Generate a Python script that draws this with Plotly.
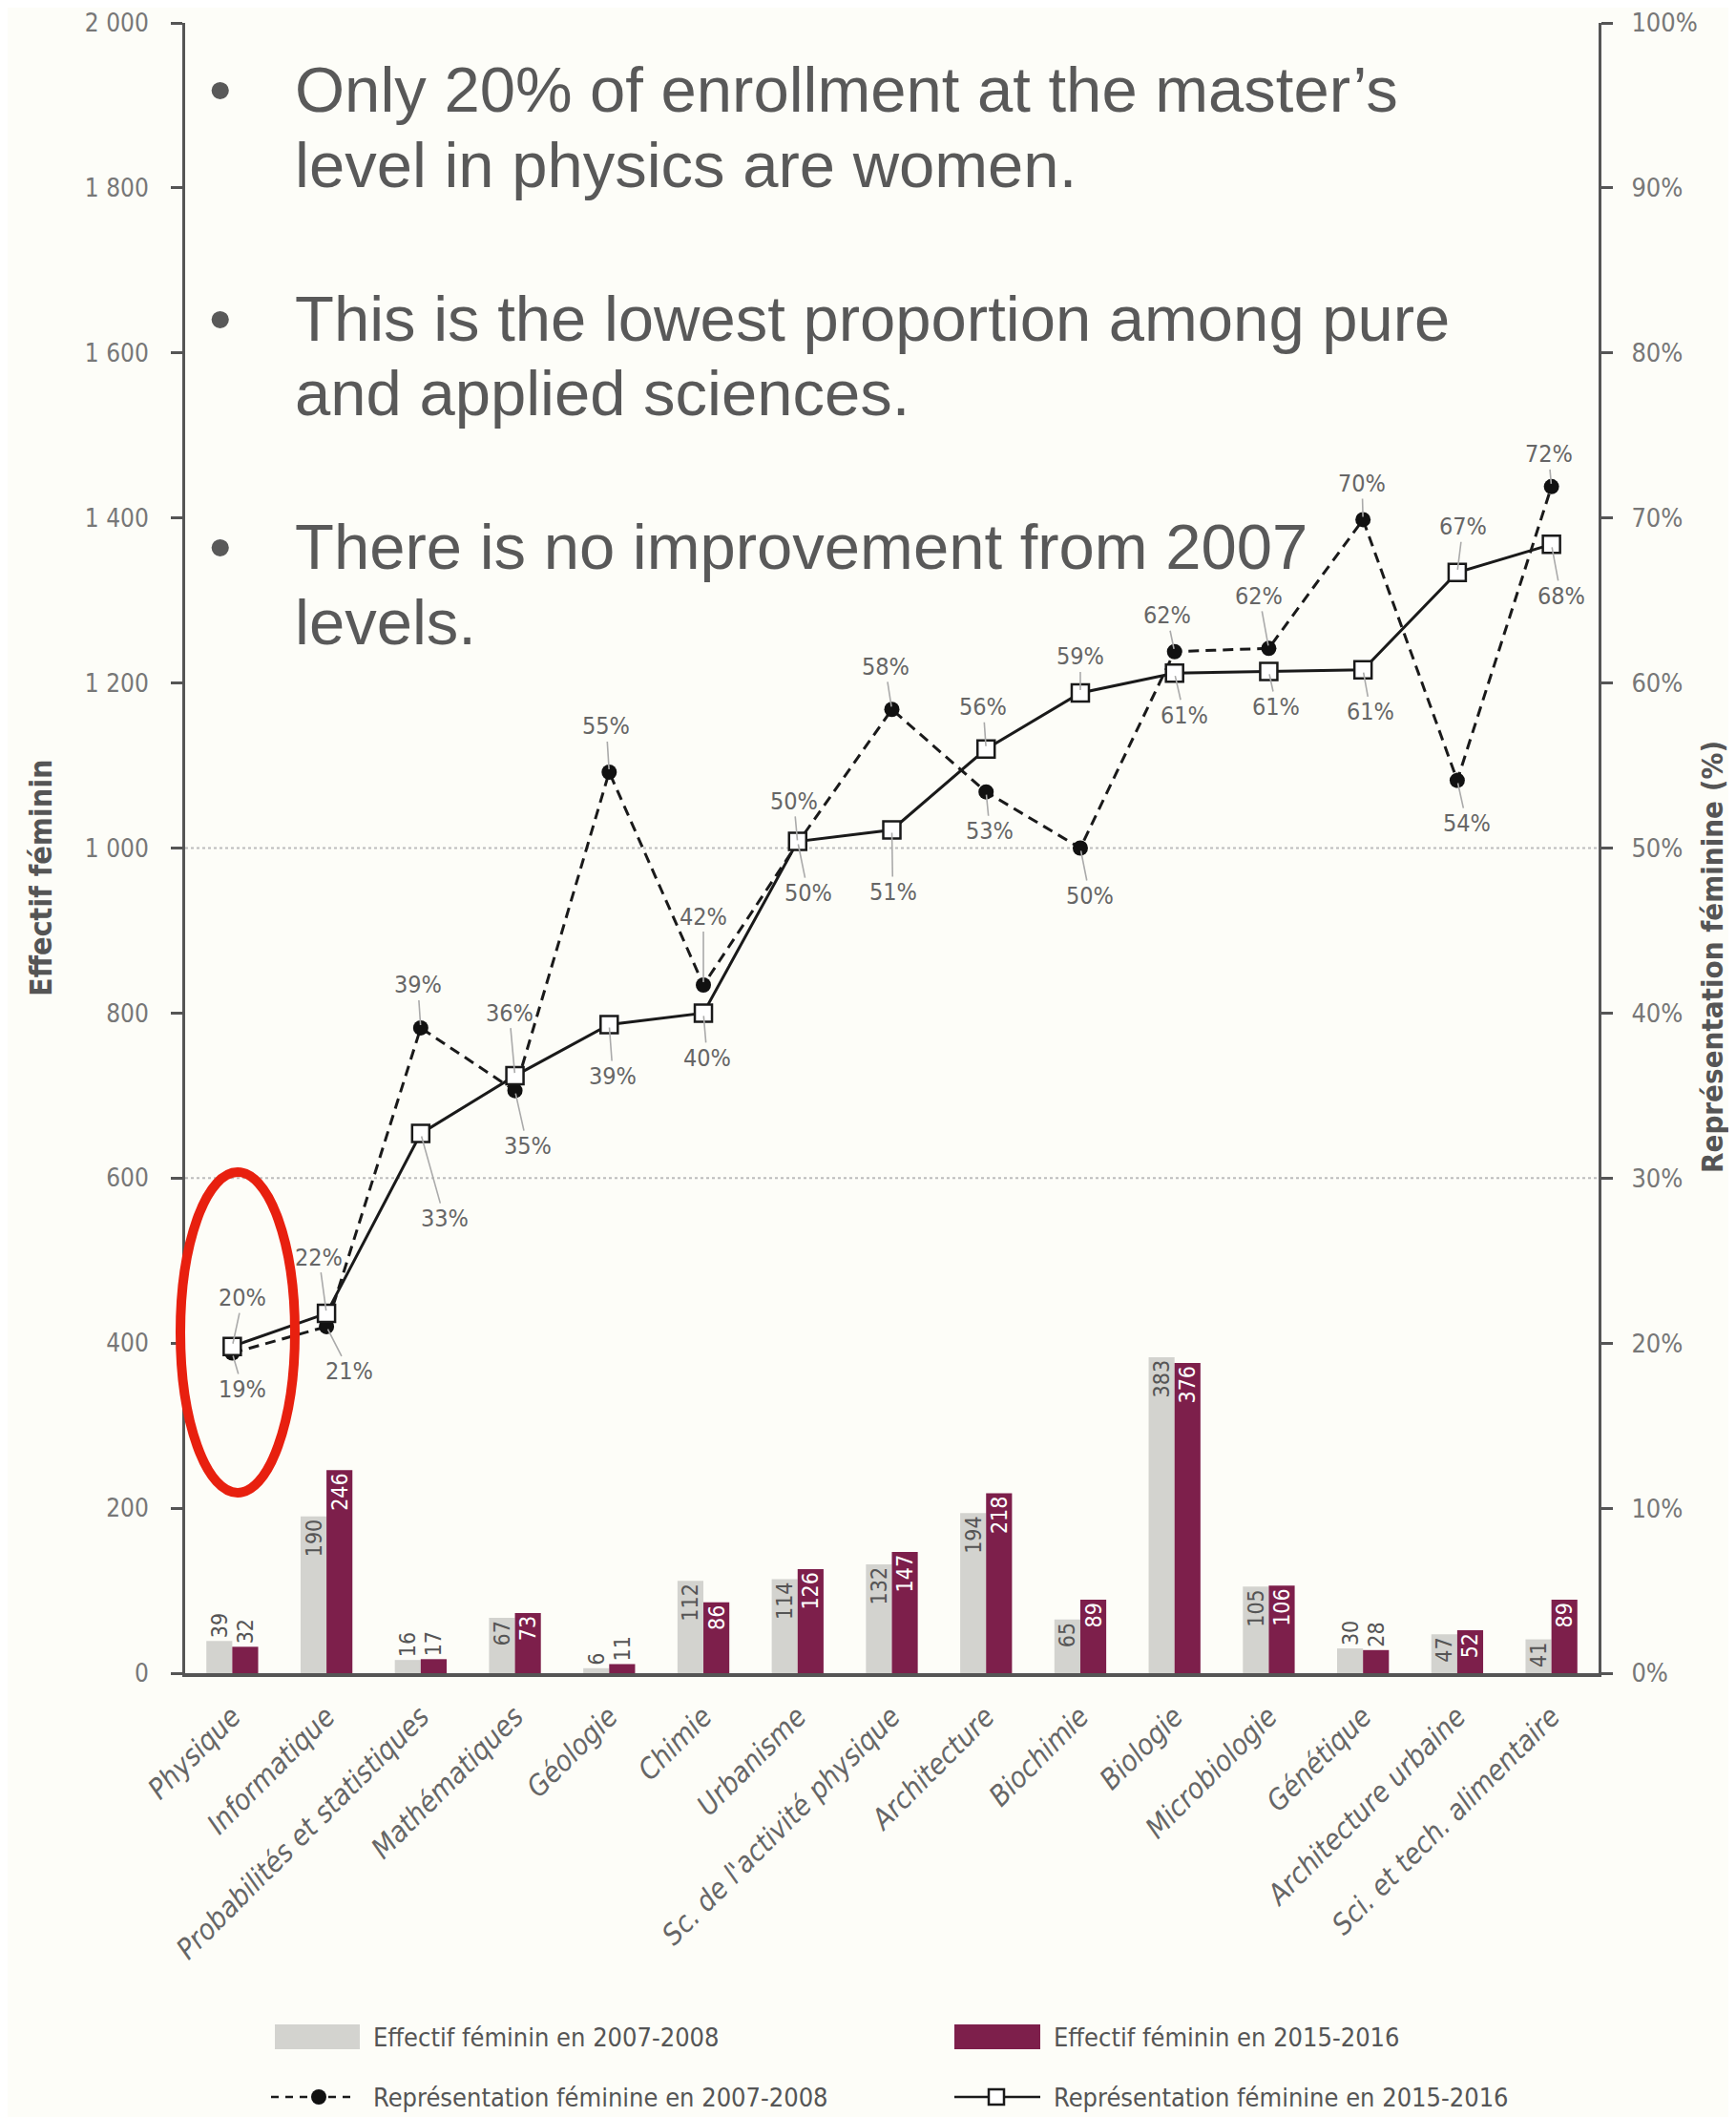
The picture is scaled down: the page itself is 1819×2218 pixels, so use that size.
import plotly.graph_objects as go

# ---------------- data ----------------
categories = ["Physique", "Informatique", "Probabilités et statistiques", "Mathématiques",
              "Géologie", "Chimie", "Urbanisme", "Sc. de l'activité physique", "Architecture",
              "Biochimie", "Biologie", "Microbiologie", "Génétique", "Architecture urbaine",
              "Sci. et tech. alimentaire"]
eff_2007 = [39, 190, 16, 67, 6, 112, 114, 132, 194, 65, 383, 105, 30, 47, 41]
eff_2015 = [32, 246, 17, 73, 11, 86, 126, 147, 218, 89, 376, 106, 28, 52, 89]
rep_2007 = [19.4, 21.0, 39.1, 35.3, 54.6, 41.7, 50.3, 58.4, 53.4, 50.0, 61.9, 62.1, 69.9, 54.1, 71.9]
rep_2015 = [19.8, 21.8, 32.7, 36.2, 39.3, 40.0, 50.4, 51.1, 56.0, 59.4, 60.6, 60.7, 60.8, 66.7, 68.4]

left_ticks = [0, 200, 400, 600, 800, 1000, 1200, 1400, 1600, 1800, 2000]
left_tick_labels = ["0", "200", "400", "600", "800", "1 000", "1 200", "1 400", "1 600", "1 800", "2 000"]
right_ticks = [0, 10, 20, 30, 40, 50, 60, 70, 80, 90, 100]
right_tick_labels = ["0%", "10%", "20%", "30%", "40%", "50%", "60%", "70%", "80%", "90%", "100%"]

legend_labels = ["Effectif féminin en 2007-2008", "Effectif féminin en 2015-2016",
                 "Représentation féminine en 2007-2008", "Représentation féminine en 2015-2016"]
bullets = [["Only 20% of enrollment at the master’s", "level in physics are women."],
           ["This is the lowest proportion among pure", "and applied sciences."],
           ["There is no improvement from 2007", "levels."]]

# ---------------- layout / style (page pixels) ----------------
PAGE_W, PAGE_H = 1819, 2218
OFF = 8                      # default body margin of the html page
W, H = PAGE_W - OFF, PAGE_H - OFF
L, R, T, B = 194 - OFF, 144, 24 - OFF, 465
PW, PH = W - L - R, H - T - B

def px(xp):
    return (xp - OFF - L) / PW

def py(yp):
    return (H - B - (yp - OFF)) / PH

# label offsets (pixels) for percentage labels
off_2007 = [(11, 38), (24, 47), (-3, -45), (13, 58), (-3, -48), (0, -72), (-4, -44), (-7, -45),
            (4, 41), (10, 50), (-8, -38), (-10, -55), (-1, -38), (10, 45), (-3, -34)]
off_2015 = [(11, -51), (-8, -59), (25, 89), (-6, -66), (4, 54), (4, 47), (11, 54), (1, 65),
            (-3, -44), (0, -38), (10, 44), (8, 37), (8, 44), (6, -48), (10, 54)]

NARROW = "Liberation Sans Narrow, Arial Narrow, DejaVu Sans Condensed, sans-serif"
SANS = "Liberation Sans, Arial, Helvetica, sans-serif"
BG = "#fdfdf8"
GREY_BAR = "#d3d3cf"
PURPLE = "#7d1f4b"
INSIDE_MIN = 40

fig = go.Figure()

pos07 = ["inside" if v > INSIDE_MIN else "outside" for v in eff_2007]
pos15 = ["inside" if v > INSIDE_MIN else "outside" for v in eff_2015]

fig.add_trace(go.Bar(x=categories, y=eff_2007, marker=dict(color=GREY_BAR, line=dict(width=0)),
                     text=[str(v) for v in eff_2007], textposition=pos07, textangle=-90,
                     insidetextanchor="end", constraintext="none",
                     insidetextfont=dict(family=NARROW, size=23, color="#555555"),
                     outsidetextfont=dict(family=NARROW, size=23, color="#555555"),
                     cliponaxis=False, showlegend=False))
fig.add_trace(go.Bar(x=categories, y=eff_2015, marker=dict(color=PURPLE, line=dict(width=0)),
                     text=[str(v) for v in eff_2015], textposition=pos15, textangle=-90,
                     insidetextanchor="end", constraintext="none",
                     insidetextfont=dict(family=NARROW, size=23, color="#ffffff"),
                     outsidetextfont=dict(family=NARROW, size=23, color="#555555"),
                     cliponaxis=False, showlegend=False))

fig.add_trace(go.Scatter(x=categories, y=rep_2007, yaxis="y2", mode="lines+markers",
                         line=dict(color="#1a1a1a", width=3, dash="11px,7px"),
                         marker=dict(symbol="circle", size=16, color="#111111"),
                         cliponaxis=False, showlegend=False))
fig.add_trace(go.Scatter(x=categories, y=rep_2015, yaxis="y2", mode="lines+markers",
                         line=dict(color="#1a1a1a", width=3),
                         marker=dict(symbol="square", size=18, color="#ffffff",
                                     line=dict(color="#1a1a1a", width=2.5)),
                         cliponaxis=False, showlegend=False))

annotations = []
for series, offs in ((rep_2007, off_2007), (rep_2015, off_2015)):
    for c, v, (ax, ay) in zip(categories, series, offs):
        annotations.append(dict(x=c, y=v, xref="x", yref="y2", text=f"{v:.0f}%",
                                showarrow=True, arrowhead=0, arrowwidth=1.6, arrowcolor="#aaaaaa",
                                ax=ax, ay=ay, standoff=3,
                                font=dict(family=NARROW, size=25, color="#666666")))

# bullet text
line_centers = [[93, 173], [333, 412], [572, 652]]
for para, ys in zip(bullets, line_centers):
    annotations.append(dict(x=px(230), y=py(ys[0]), xref="paper", yref="paper", text="•",
                            showarrow=False, xanchor="center", yanchor="middle",
                            font=dict(family=SANS, size=67, color="#595959")))
    for txt, yy in zip(para, ys):
        annotations.append(dict(x=px(307), y=py(yy), xref="paper", yref="paper", text=txt,
                                showarrow=False, xanchor="left", yanchor="middle",
                                font=dict(family=SANS, size=67, color="#595959")))

# axis titles
annotations.append(dict(x=px(43), y=py(920), xref="paper", yref="paper", text="<b>Effectif féminin</b>",
                        showarrow=False, textangle=-90, xanchor="center", yanchor="middle",
                        font=dict(family=NARROW, size=32, color="#555555")))
annotations.append(dict(x=px(1794), y=py(1003), xref="paper", yref="paper",
                        text="<b>Représentation féminine (%)</b>",
                        showarrow=False, textangle=-90, xanchor="center", yanchor="middle",
                        font=dict(family=NARROW, size=31, color="#555555")))

# manual legend
shapes = []
leg_rows = [2134, 2197]
leg_text_x = [389, 1102]
shapes.append(dict(type="rect", xref="paper", yref="paper", x0=px(288), x1=px(377),
                   y0=py(2147), y1=py(2121), fillcolor=GREY_BAR, line=dict(width=0)))
shapes.append(dict(type="rect", xref="paper", yref="paper", x0=px(1000), x1=px(1090),
                   y0=py(2147), y1=py(2121), fillcolor=PURPLE, line=dict(width=0)))
shapes.append(dict(type="line", xref="paper", yref="paper", x0=px(284), x1=px(372),
                   y0=py(2197), y1=py(2197), line=dict(color="#1a1a1a", width=2.5, dash="8px,7px")))
shapes.append(dict(type="circle", xref="paper", yref="paper", x0=px(326), x1=px(342),
                   y0=py(2205), y1=py(2189), fillcolor="#111111", line=dict(width=0)))
shapes.append(dict(type="line", xref="paper", yref="paper", x0=px(1000), x1=px(1090),
                   y0=py(2197), y1=py(2197), line=dict(color="#1a1a1a", width=2.5)))
shapes.append(dict(type="rect", xref="paper", yref="paper", x0=px(1036), x1=px(1052),
                   y0=py(2205), y1=py(2189), fillcolor="#ffffff", line=dict(color="#1a1a1a", width=2.5)))
for i, lab in enumerate(legend_labels):
    row, col = divmod(i, 2)
    annotations.append(dict(x=px(leg_text_x[col]), y=py(leg_rows[row]), xref="paper", yref="paper",
                            text=lab, showarrow=False, xanchor="left", yanchor="middle",
                            font=dict(family=NARROW, size=27, color="#555555")))

# dotted reference lines
for yv in (600, 1000):
    shapes.append(dict(type="line", xref="paper", yref="y", x0=0, x1=1, y0=yv, y1=yv,
                       line=dict(color="#bdbdbd", width=2, dash="dot"), layer="below"))

# red ellipse
shapes.append(dict(type="circle", xref="paper", yref="paper", x0=px(189), x1=px(309),
                   y0=py(1564), y1=py(1228), line=dict(color="#e8200f", width=10)))

fig.update_layout(
    width=W, height=H, autosize=False,
    margin=dict(l=L, r=R, t=T, b=B, pad=0),
    paper_bgcolor=BG, plot_bgcolor=BG,
    barmode="group", bargap=0.45, bargroupgap=0,
    showlegend=False,
    xaxis=dict(type="category", range=[-0.5, len(categories) - 0.5], showgrid=False,
               automargin=False,
               showline=True, linecolor="#555555", linewidth=4, ticks="", tickangle=-45,
               ticklabelstandoff=12,
               tickfont=dict(family=NARROW, size=30, color="#666666", style="italic"),
               zeroline=False),
    yaxis=dict(range=[0, 2000], tickvals=left_ticks, ticktext=left_tick_labels, showgrid=False,
               automargin=False,
               zeroline=False, showline=True, linecolor="#555555", linewidth=3,
               ticks="outside", ticklen=12, tickwidth=3, tickcolor="#555555",
               ticklabelstandoff=18,
               tickfont=dict(family=NARROW, size=26, color="#777777")),
    yaxis2=dict(range=[0, 100], overlaying="y", side="right", tickvals=right_ticks,
                automargin=False,
                ticktext=right_tick_labels, showgrid=False, zeroline=False, showline=True,
                linecolor="#555555", linewidth=3, ticks="outside", ticklen=12, tickwidth=3,
                tickcolor="#555555", ticklabelstandoff=14,
                tickfont=dict(family=NARROW, size=27, color="#777777")),
    annotations=annotations,
    shapes=shapes,
)

fig.write_html("out.html")
